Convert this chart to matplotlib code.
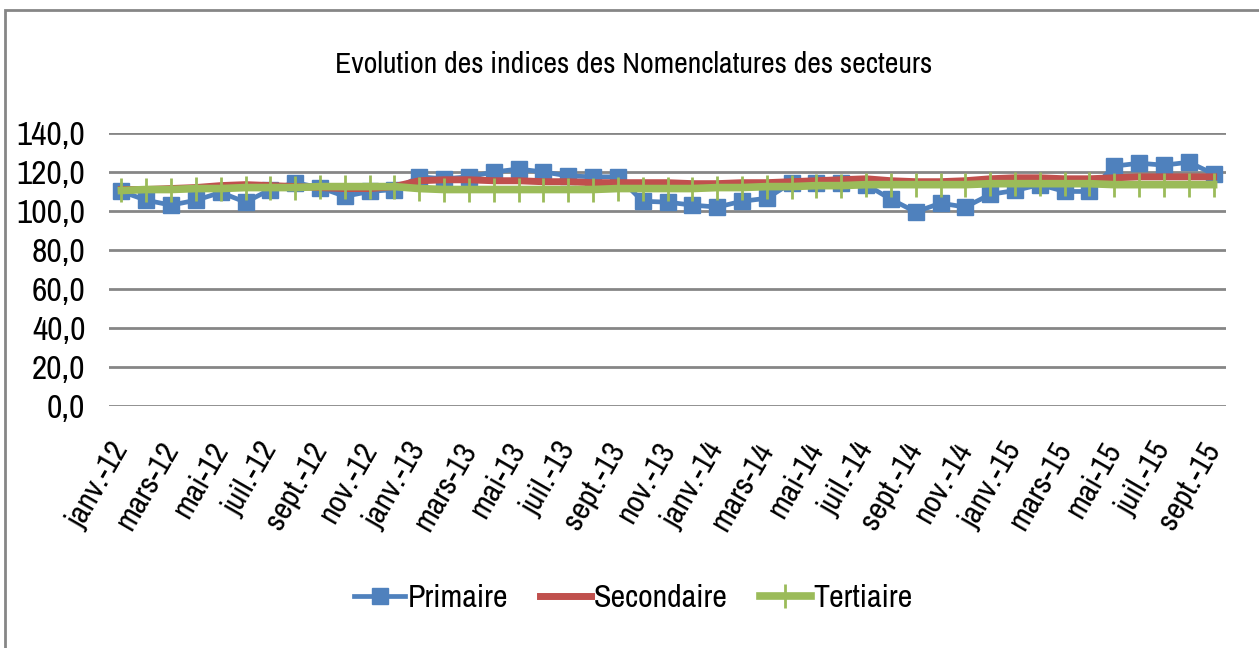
import matplotlib

matplotlib.use("Agg")
import matplotlib.pyplot as plt
from matplotlib.patches import Rectangle

plt.rcParams["font.family"] = ["Archivo Narrow", "Liberation Sans", "DejaVu Sans"]

mois = ["janv.", "févr.", "mars", "avr.", "mai", "juin",
        "juil.", "août", "sept.", "oct.", "nov.", "déc."]
annees = ["12", "13", "14", "15"]
dates = [f"{m}-{a}" for a in annees for m in mois][:45]

primaire = [110.0, 105.5, 103.0, 105.5, 109.5, 104.5, 111.0, 114.5, 112.0, 107.5,
            110.0, 111.0, 117.5, 116.5, 117.5, 120.0, 121.5, 120.0, 118.0, 117.5,
            117.5, 105.0, 104.5, 103.0, 102.0, 105.0, 106.5, 114.5, 114.5, 114.5,
            113.5, 106.0, 99.5, 104.0, 102.0, 108.5, 110.5, 113.5, 110.0, 110.0,
            123.0, 124.5, 123.5, 125.0, 119.0]
secondaire = [111.0, 111.0, 111.5, 112.0, 113.0, 113.5, 113.0, 112.5, 112.0, 111.5,
              111.5, 112.5, 115.5, 116.0, 116.0, 115.5, 115.5, 115.0, 115.0, 114.5,
              114.5, 114.5, 114.5, 114.0, 114.0, 114.5, 114.5, 115.0, 115.5, 116.0,
              116.5, 115.5, 115.0, 115.0, 115.5, 116.5, 117.0, 117.0, 116.5, 116.5,
              117.0, 117.5, 117.5, 117.5, 117.5]
tertiaire = [110.5, 111.0, 111.0, 111.5, 111.5, 112.0, 112.0, 112.0, 112.5, 112.5,
             112.5, 112.5, 111.5, 111.0, 111.0, 111.0, 111.0, 111.0, 111.0, 111.0,
             111.5, 111.5, 111.5, 111.5, 112.0, 112.0, 112.5, 112.5, 113.0, 113.0,
             113.5, 113.5, 113.5, 113.5, 113.5, 114.0, 114.0, 114.0, 114.0, 114.0,
             113.5, 113.5, 113.5, 113.5, 113.5]

x = list(range(len(dates)))

fig = plt.figure(figsize=(12.59, 6.48), dpi=100)
ax = fig.add_axes([0.0866, 0.3735, 0.8872, 0.4213])

ax.plot(x, primaire, color="#4F81BD", lw=3.4, marker="s", ms=11,
        label="Primaire", zorder=3)
ax.plot(x, secondaire, color="#C0504D", lw=5, label="Secondaire", zorder=4)
ax.plot(x, tertiaire, color="#9BBB59", lw=5.5, marker="|", ms=17, mew=2,
        label="Tertiaire", zorder=5)

ax.set_xlim(-0.5, len(dates) - 0.5)
ax.set_ylim(0, 140)
ax.set_yticks(range(0, 141, 20))
ax.set_yticklabels([f"{v},0" for v in range(0, 141, 20)], fontsize=24)
ax.set_xticks(x[::2])
ax.set_xticklabels(dates[::2], rotation=60, ha="right", va="center",
                   rotation_mode="anchor", fontsize=23)
ax.tick_params(length=0)
ax.tick_params(axis="y", pad=17)
ax.tick_params(axis="x", pad=28)
ax.grid(axis="y", color="#868686", lw=2)
ax.set_axisbelow(True)
for s in ax.spines.values():
    s.set_visible(False)

fig.text(0.503, 0.9, "Evolution des indices des Nomenclatures des secteurs",
         ha="center", va="center", fontsize=21.5, fontweight="bold")

fig.legend(loc="center", bbox_to_anchor=(0.503, 0.077), ncol=3, frameon=False,
           fontsize=23, handlelength=1.6, handletextpad=0.08, columnspacing=1.0)

fig.patches.append(Rectangle((5 / 1259, -0.1), 1.2, 1 - 10 / 648 + 0.1,
                             transform=fig.transFigure, fill=False,
                             edgecolor="#868686", lw=2))

fig.savefig("out.png", dpi=100)
